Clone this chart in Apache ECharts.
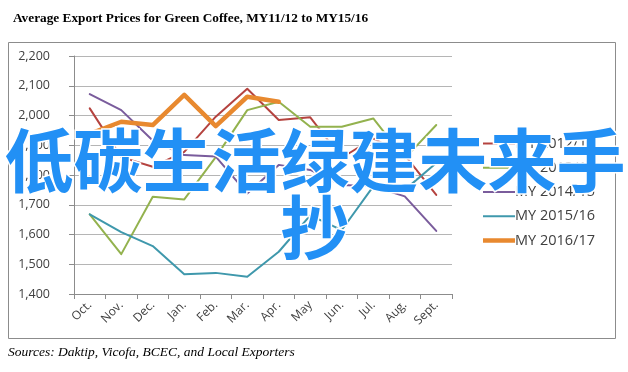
<!DOCTYPE html>
<html><head><meta charset="utf-8">
<script src="https://cdn.jsdelivr.net/npm/echarts@6/dist/echarts.min.js"></script>
<style>html,body{margin:0;padding:0;background:#fff}#c{width:628px;height:372px}</style>
</head><body><div id="c"></div>
<script>
const months = ['Oct.','Nov.','Dec.','Jan.','Feb.','Mar.','Apr.','May','Jun.','Jul.','Aug.','Sept.'];
const seriesNames = ['MY 2012/13','MY 2013/14','MY 2014/15','MY 2015/16','MY 2016/17'];
const my1213 = [2024,1860,1828,1878,1996,2090,1985,1994,1858,1923,1867,1733];
const my1314 = [1668,1534,1727,1718,1860,2018,2046,1962,1962,1990,1856,1968];
const my1415 = [2072,2018,1916,1867,1862,1738,1834,1817,1766,1762,1728,1612];
const my1516 = [1668,1608,1561,1466,1471,1458,1542,1664,1615,1762,1750,1840];
const my1617 = [1938,1979,1968,2069,1964,2063,2046];
const colors = ['#B5433F','#93B24E','#7A5C9C','#3F98AC','#E8892F'];
const widths = [2,2,2,2,4.5];
const yTicks = [1400,1500,1600,1700,1800,1900,2000,2100,2200];
const titleText = 'Average Export Prices for Green Coffee, MY11/12 to MY15/16';
const sourceText = 'Sources: Daktip, Vicofa, BCEC, and Local Exporters';
const overlayLine1 = '低碳生活绿建未来手';
const overlayLine2 = '抄';

const allData = [my1213, my1314, my1415, my1516, my1617];
const chart = echarts.init(document.getElementById('c'));
chart.setOption({
  animation: false,
  backgroundColor: '#fff',
  title: {
    text: titleText, left: 8, top: 7,
    textStyle: {fontFamily: 'Liberation Serif', fontWeight: 'bold', fontSize: 13.3, color: '#000'}
  },
  grid: {left: 74, right: 176, top: 56, bottom: 78},
  legend: {
    orient: 'vertical', left: 478, top: 131, itemWidth: 32, itemHeight: 14, itemGap: 9.25,
    symbolKeepAspect: true,
    data: seriesNames.map((n, i) => ({name: n, icon: 'path://M0 0H32V' + widths[i] + 'H0Z'})),
    textStyle: {fontFamily: 'Open Sans', fontSize: 14.5, color: '#404040', padding: [0,0,0,-5]}
  },
  xAxis: {
    type: 'category', data: months, boundaryGap: true,
    axisLine: {lineStyle: {color: '#8c8c8c'}},
    axisTick: {show: true, length: 5, lineStyle: {color: '#8c8c8c'}},
    axisLabel: {rotate: 45, fontFamily: 'Open Sans', fontSize: 12, color: '#404040', margin: 9, interval: 0}
  },
  yAxis: {
    type: 'value', min: yTicks[0], max: yTicks[yTicks.length-1], interval: 100,
    axisLine: {show: true, lineStyle: {color: '#8c8c8c'}},
    axisTick: {show: true, length: 5, lineStyle: {color: '#8c8c8c'}},
    axisLabel: {fontFamily: 'Open Sans', fontSize: 12.5, color: '#404040', margin: 24,
      formatter: v => v.toLocaleString('en-US')},
    splitLine: {lineStyle: {color: '#b5b5b5'}}
  },
  series: seriesNames.map((n, i) => ({
    name: n, type: 'line', data: allData[i], symbol: 'none', smooth: false,
    lineStyle: {color: colors[i], width: widths[i], cap: 'round', join: 'round'}, itemStyle: {color: colors[i]}, z: 2 + i
  })),
  graphic: [
    {type: 'rect', shape: {x: 8.5, y: 42.5, width: 607, height: 296}, style: {fill: 'none', stroke: '#8c8c8c', lineWidth: 1}, z: 0, silent: true},
    {type: 'text', left: 8, top: 345, style: {text: sourceText, font: 'italic 13.5px "Liberation Serif"', fill: '#000'}},
    {type: 'text', x: 315, y: 161, z: 100, style: {text: overlayLine1, font: 'bold 69px "Noto Sans CJK SC"', fill: '#2290F5', stroke: '#fff', lineWidth: 3, textAlign: 'center', textVerticalAlign: 'middle'}},
    {type: 'text', x: 315, y: 228, z: 100, style: {text: overlayLine2, font: 'bold 69px "Noto Sans CJK SC"', fill: '#2290F5', stroke: '#fff', lineWidth: 3, textAlign: 'center', textVerticalAlign: 'middle'}}
  ]
});
</script></body></html>
